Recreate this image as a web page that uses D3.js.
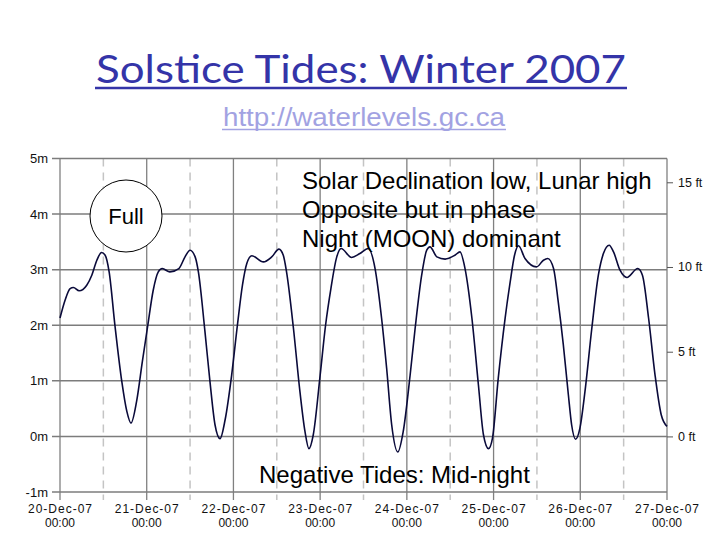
<!DOCTYPE html>
<html>
<head>
<meta charset="utf-8">
<script src="https://cdn.jsdelivr.net/npm/d3@7"></script>
<style>
  body { margin: 0; background: #fff; }
  svg { display: block; }
</style>
</head>
<body>
<svg class="chart" width="720" height="540"></svg>
<script>
// hours since 20-Dec-07 00:00 and water level in metres
const hours = [0, 1.4, 2.8, 3.7, 5.3, 7.4, 8.8, 10.2, 11.5, 12.5, 13.6, 15.2, 17.1, 18.5, 19.65, 21.2, 22.8,
  24.3, 25.8, 27.2, 28.3, 30.4, 32.9, 34.6, 36.0, 37.4, 38.3, 40.1, 41.5, 42.9, 44.3, 45.7, 47.5,
  49.1, 50.5, 51.7, 53.1, 56.3, 58.6, 60.6, 61.8, 62.7, 64.6, 66.4, 67.8, 68.9, 70.1, 72.0,
  73.5, 75.0, 76.6, 77.8, 80.7, 83.0, 85.3, 87.2, 89.0, 90.4, 91.8, 93.5, 95.0, 96.9,
  98.3, 100.1, 101.5, 102.4, 104.3, 106.6, 109.3, 110.7, 112.1, 114.0, 115.8, 117.2, 118.6, 119.7, 121.3,
  123.2, 124.6, 125.8, 126.9, 128.7, 131.9, 133.8, 135.0, 136.6, 137.9, 139.3, 140.7, 141.6, 142.7, 143.9, 145.3,
  147.2, 149.0, 150.4, 152.0, 153.2, 155.0, 156.9, 159.9, 161.2, 162.9, 164.7, 166.4, 168]
const levels = [2.13, 2.45, 2.66, 2.68, 2.62, 2.72, 2.9, 3.17, 3.31, 3.26, 2.96, 2.0, 0.99, 0.45, 0.24, 0.63, 1.35,
  2.0, 2.63, 2.96, 3.02, 2.96, 3.02, 3.23, 3.35, 3.23, 2.96, 1.9, 0.99, 0.21, -0.04, 0.30, 1.1,
  2.0, 2.72, 3.11, 3.25, 3.14, 3.23, 3.37, 3.26, 2.96, 1.95, 0.81, 0.09, -0.22, 0.03, 1.1,
  2.0, 2.67, 3.23, 3.38, 3.22, 3.29, 3.38, 3.02, 2.13, 1.23, 0.21, -0.28, 0.09, 1.1,
  1.95, 2.9, 3.35, 3.41, 3.23, 3.19, 3.26, 3.32, 3.02, 2.13, 0.93, 0.03, -0.22, -0.03, 1.05,
  2.13, 2.78, 3.26, 3.43, 3.2, 3.05, 3.17, 3.2, 3.02, 2.42, 1.65, 0.75, 0.21, -0.05, 0.15, 0.81,
  1.95, 2.9, 3.29, 3.44, 3.32, 2.99, 2.86, 3.02, 2.9, 2.13, 1.1, 0.39, 0.18]

const dayLabels = ["20-Dec-07", "21-Dec-07", "22-Dec-07", "23-Dec-07", "24-Dec-07", "25-Dec-07", "26-Dec-07", "27-Dec-07"]
const metreTicks = [-1, 0, 1, 2, 3, 4, 5]
const feetTicks = [0, 5, 10, 15]

const hourScale = d3.scaleLinear([0, 168], [60, 667])
const levelScale = d3.scaleLinear([-1, 5], [492, 158.5])
const feetScale = d3.scaleLinear([-1 / 0.3048, 5 / 0.3048], [492, 158.5])

const svg = d3.select('.chart')

// TITULO
svg.append('text')
  .text('Solstice Tides: Winter 2007')
  .attr('x', 361).attr('y', 83)
  .attr('text-anchor', 'middle')
  .attr('font-family', '"Comic Sans MS", Lato, "DejaVu Sans", sans-serif')
  .attr('font-size', '38px')
  .attr('textLength', 530)
  .attr('lengthAdjust', 'spacingAndGlyphs')
  .attr('fill', '#3434a8')
svg.append('line')
  .attr('x1', 95).attr('x2', 627).attr('y1', 88).attr('y2', 88)
  .attr('stroke', '#3434a8').attr('stroke-width', 2.5)

svg.append('text')
  .text('http://waterlevels.gc.ca')
  .attr('x', 364).attr('y', 126)
  .attr('text-anchor', 'middle')
  .attr('font-family', '"Liberation Sans", Arial, sans-serif')
  .attr('font-size', '25px')
  .attr('textLength', 282)
  .attr('lengthAdjust', 'spacingAndGlyphs')
  .attr('fill', '#a2a2e2')
svg.append('line')
  .attr('x1', 222).attr('x2', 506).attr('y1', 129.5).attr('y2', 129.5)
  .attr('stroke', '#a2a2e2').attr('stroke-width', 1.5)

// GRID
const days = d3.range(0, 8)
svg.append('g')
  .selectAll('line')
  .data(days.slice(0, 7))
  .join('line')
  .attr('x1', d => hourScale(d * 24 + 12))
  .attr('x2', d => hourScale(d * 24 + 12))
  .attr('y1', levelScale(5)).attr('y2', 500)
  .attr('stroke', '#c4c4c4').attr('stroke-width', 1.5)
  .attr('stroke-dasharray', '8,6')

svg.append('g')
  .selectAll('line')
  .data(days)
  .join('line')
  .attr('x1', d => hourScale(d * 24))
  .attr('x2', d => hourScale(d * 24))
  .attr('y1', levelScale(5)).attr('y2', 500)
  .attr('stroke', '#808080').attr('stroke-width', 1.3)

svg.append('g')
  .selectAll('line')
  .data(metreTicks)
  .join('line')
  .attr('x1', 52).attr('x2', hourScale(168))
  .attr('y1', d => levelScale(d))
  .attr('y2', d => levelScale(d))
  .attr('stroke', '#7c7c7c').attr('stroke-width', 1.5)

// EJE Y (metros)
svg.append('g')
  .selectAll('text')
  .data(metreTicks)
  .join('text')
  .text(d => d + 'm')
  .attr('x', 48)
  .attr('y', d => levelScale(d) + 4.5)
  .attr('text-anchor', 'end')
  .attr('font-family', '"Liberation Sans", Arial, sans-serif')
  .attr('font-size', '13px')
  .attr('fill', '#111')

// EJE Y derecho (pies)
const ftAxis = svg.append('g')
  .attr('transform', `translate(${hourScale(168)},0)`)
  .call(d3.axisRight(feetScale).tickValues(feetTicks).tickSize(6).tickPadding(5).tickFormat(d => d + ' ft'))
ftAxis.select('.domain').remove()
ftAxis.selectAll('.tick line').attr('stroke', '#555')
ftAxis.selectAll('.tick text')
  .attr('font-family', '"Liberation Sans", Arial, sans-serif')
  .attr('font-size', '12.5px')
  .attr('fill', '#111')

// EJE X
const dateGroup = svg.append('g')
  .attr('font-family', '"Liberation Sans", Arial, sans-serif')
  .attr('font-size', '12px')
  .attr('fill', '#111')
  .attr('text-anchor', 'middle')
dateGroup.selectAll('text.day')
  .data(days)
  .join('text')
  .attr('class', 'day')
  .attr('x', d => hourScale(d * 24)).attr('y', 513)
  .attr('textLength', 64)
  .attr('lengthAdjust', 'spacing')
  .text(d => dayLabels[d])
dateGroup.selectAll('text.time')
  .data(days)
  .join('text')
  .attr('class', 'time')
  .attr('x', d => hourScale(d * 24)).attr('y', 527)
  .text('00:00')

// CURVA
const line = d3.line()
  .x(i => hourScale(hours[i]))
  .y(i => levelScale(levels[i]))
  .curve(d3.curveMonotoneX)
svg.append('path')
  .attr('d', line(d3.range(hours.length)))
  .attr('fill', 'none')
  .attr('stroke', '#0a0a3a')
  .attr('stroke-width', 1.6)

// ANOTACIONES
svg.append('circle')
  .attr('cx', 126).attr('cy', 216).attr('r', 36)
  .attr('fill', '#fff').attr('stroke', '#000').attr('stroke-width', 1)
svg.append('text')
  .text('Full')
  .attr('x', 126).attr('y', 224)
  .attr('text-anchor', 'middle')
  .attr('font-family', '"Liberation Sans", Arial, sans-serif')
  .attr('font-size', '22px')
  .attr('fill', '#000')

const notes = ['Solar Declination low, Lunar high', 'Opposite but in phase', 'Night (MOON) dominant']
svg.append('g')
  .selectAll('text')
  .data(notes)
  .join('text')
  .text(d => d)
  .attr('x', 302)
  .attr('y', (d, i) => 189 + i * 29)
  .attr('font-family', '"Liberation Sans", Arial, sans-serif')
  .attr('font-size', '24px')
  .attr('fill', '#000')

svg.append('text')
  .text('Negative Tides: Mid-night')
  .attr('x', 259).attr('y', 483)
  .attr('font-family', '"Liberation Sans", Arial, sans-serif')
  .attr('font-size', '24px')
  .attr('fill', '#000')
</script>
</body>
</html>
